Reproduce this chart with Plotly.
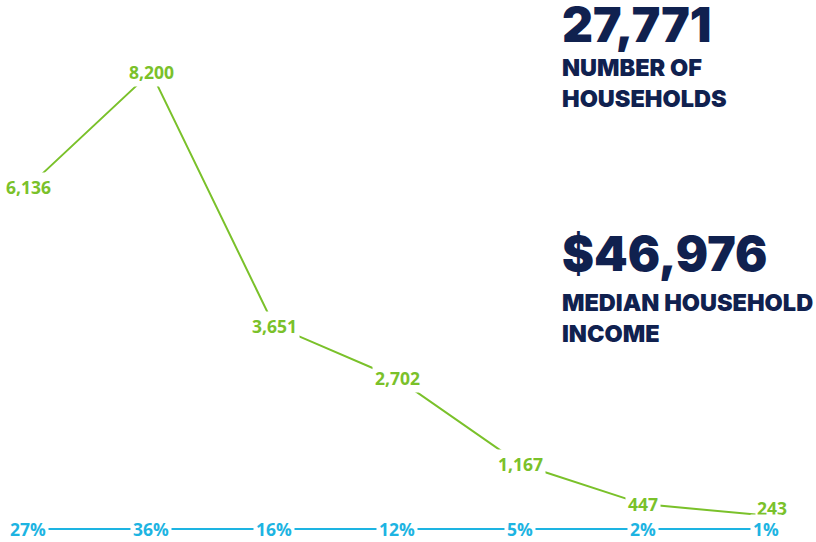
import plotly.graph_objects as go

# Household counts by income bracket, with each bracket's share of all households
brackets = ["B1", "B2", "B3", "B4", "B5", "B6", "B7"]
households = [6136, 8200, 3651, 2702, 1167, 447, 243]
share_pct = [27, 36, 16, 12, 5, 2, 1]

total_households = "27,771"
median_income = "$46,976"

GREEN = "#7ac12a"
BLUE = "#1db4e2"
NAVY = "#10214f"
W, H = 816, 542

fig = go.Figure()

# Household counts line
fig.add_trace(go.Scatter(
    x=list(range(len(brackets))), y=households, mode="lines",
    line=dict(color=GREEN, width=2), hoverinfo="skip", showlegend=False,
))

# Share line, drawn as fractions on the same axis so it sits along the baseline
fig.add_trace(go.Scatter(
    x=list(range(len(brackets))), y=[p / 100 for p in share_pct], mode="lines",
    line=dict(color=BLUE, width=2), hoverinfo="skip", showlegend=False,
))

label_font = dict(family="Open Sans", size=17.5, color=GREEN, weight="bold")
annotations = []
for i, v in enumerate(households):
    last = i == len(households) - 1
    annotations.append(dict(
        x=i, y=v, xref="x", yref="y", text=f"{v:,}", showarrow=False,
        font=label_font, bgcolor="white", borderpad=1 if last else 2,
        xshift=6 if last else 0, yshift=7 if last else 0,
    ))
for i, p in enumerate(share_pct):
    annotations.append(dict(
        x=i, y=p / 100, xref="x", yref="y", text=f"{p}%", showarrow=False,
        font=dict(family="Open Sans", size=17.5, color=BLUE, weight="bold"),
        bgcolor="white", borderpad=2,
    ))

big = dict(family="Inter", size=48, color=NAVY, weight=900)
sub = dict(family="Inter", size=23.5, color=NAVY, weight=900)
x0 = 560 / W


def py(px):
    return 1 - px / H


annotations += [
    dict(x=x0, y=py(0), xref="paper", yref="paper", text=total_households,
         showarrow=False, xanchor="left", yanchor="top", font=big, yshift=7),
    dict(x=x0, y=py(83), xref="paper", yref="paper",
         text="NUMBER OF<br>HOUSEHOLDS", showarrow=False, xanchor="left",
         yanchor="middle", align="left", font=sub),
    dict(x=x0, y=py(253), xref="paper", yref="paper", text=median_income,
         showarrow=False, xanchor="left", yanchor="middle", font=big),
    dict(x=x0, y=py(318), xref="paper", yref="paper",
         text="MEDIAN HOUSEHOLD<br>INCOME", showarrow=False, xanchor="left",
         yanchor="middle", align="left", font=sub),
]

fig.update_layout(
    width=W, height=H, margin=dict(l=0, r=0, t=0, b=0),
    paper_bgcolor="white", plot_bgcolor="white",
    xaxis=dict(range=[-28 / 123, (W - 28) / 123], visible=False, fixedrange=True),
    yaxis=dict(range=[-233, 9494], visible=False, fixedrange=True),
    annotations=annotations,
)

fig.write_html("out.html")
